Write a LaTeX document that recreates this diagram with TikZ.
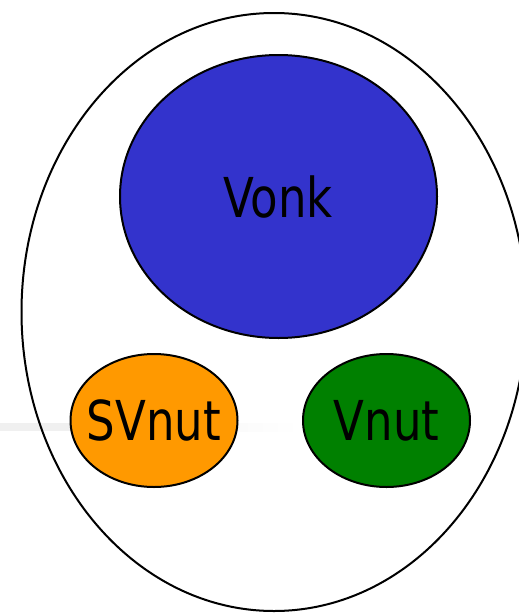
\documentclass[tikz,border=0pt]{standalone}
\usepackage{fontspec}
\setmainfont{DejaVu Sans Condensed}[FakeStretch=0.91]
\usetikzlibrary{shapes.geometric}
\definecolor{vonkblue}{HTML}{3333CC}
\definecolor{svorange}{HTML}{FF9900}
\definecolor{vgreen}{HTML}{008000}
\tikzset{
  blob/.style={ellipse, draw=black, line width=2pt, inner sep=0pt, font=\fontsize{55}{60}\selectfont, text=black},
}
\begin{document}
\begin{tikzpicture}[x=1pt, y=-1pt]
\useasboundingbox (0,0) rectangle (519,613);
\clip (0,0) rectangle (519,613);
% faint band
\fill[black!6] (0,423) rectangle (70,431);
\shade[left color=black!6, right color=white] (70,423) rectangle (300,431);
\node[blob, minimum width=505pt, minimum height=598pt] (outer) at (274,312) {};
\node[blob, fill=vonkblue, minimum width=317pt, minimum height=283pt] (vonk) at (278.5,196.5) {\makebox[0pt]{Vonk}};
\node[blob, fill=svorange, minimum width=167pt, minimum height=133pt] (svnut) at (154,420.5) {\makebox[0pt]{SVnut}};
\node[blob, fill=vgreen, minimum width=167pt, minimum height=133pt] (vnut) at (386.5,420.5) {\makebox[0pt]{Vnut}};
\end{tikzpicture}
\end{document}
